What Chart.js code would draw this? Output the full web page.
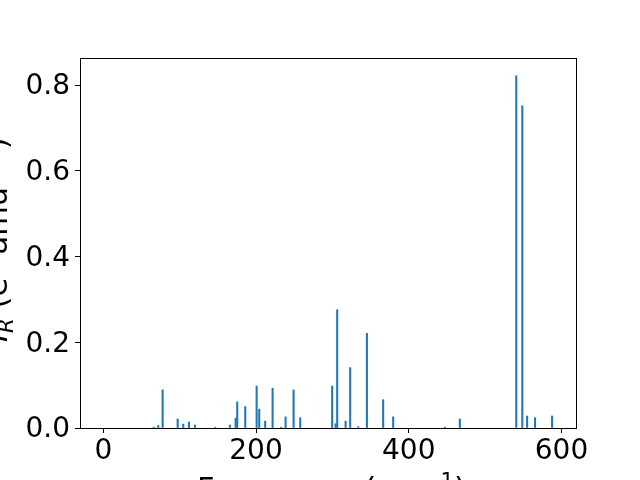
<!DOCTYPE html>
<html>
<head>
<meta charset="utf-8">
<script src="https://cdn.jsdelivr.net/npm/chart.js@4"></script>
<style>
  html, body { margin: 0; padding: 0; background: #fff; overflow: hidden; }
  #wrap { width: 640px; height: 480px; }
</style>
</head>
<body>
<div id="wrap"><canvas id="myChart" width="640" height="480"></canvas></div>
<script>
/* ================================
   Raman-like spectrum: bar sticks
================================ */
// frequencies (cm-1) and intensities
var freqs = [66, 72, 77.7, 97.4, 104.7, 112.2, 120, 146.6, 165.8, 173.3, 175.4, 185.9,
  200.8, 204.2, 212, 221.7, 233, 238.7, 249.2, 257.9, 299.7, 304.2, 306.3, 317.3,
  323.3, 333.8, 345.2, 366.5, 379.6, 447.3, 466.9, 540.8, 548.7, 555, 565.4, 587.7];
var intensities = [0.002, 0.006, 0.089, 0.021, 0.009, 0.014, 0.007, 0.002, 0.007, 0.023, 0.061, 0.05,
  0.098, 0.044, 0.016, 0.093, 0.002, 0.026, 0.089, 0.024, 0.098, 0.010, 0.276, 0.016,
  0.141, 0.003, 0.221, 0.066, 0.026, 0.002, 0.021, 0.822, 0.752, 0.028, 0.024, 0.028];
var xTicks = [0, 200, 400, 600];
var yTicks = [0, 0.2, 0.4, 0.6, 0.8];

// axis labels, drawn piece by piece (sub/superscripts)
var xLabelParts = [
  { text: 'Frequency (cm' },
  { text: '\u22121', sup: true },
  { text: ')' }
];
var yLabelParts = [
  { text: 'I', italic: true },
  { text: 'R', italic: true, sub: true },
  { text: ' (e' },
  { text: '2', sup: true },
  { text: ' amu' },
  { text: '\u22121', sup: true },
  { text: ')' }
];

var FONT = '"DejaVu Sans", sans-serif';
var BLUE = '#1f77b4';
var LABEL_SIZE = 30.5;

// frame on all four sides, like the matplotlib spines
const framePlugin = {
  id: 'frame',
  afterDraw(chart) {
    const a = chart.chartArea;
    const c = chart.ctx;
    c.save();
    c.strokeStyle = '#000';
    c.lineWidth = 1;
    c.strokeRect(Math.round(a.left) + 0.5, Math.round(a.top) + 0.5,
      Math.round(a.right - a.left), Math.round(a.bottom - a.top));
    c.restore();
  }
};

function drawParts(c, parts, size, gap) {
  var x = 0;
  parts.forEach(function (p) {
    var s = (p.sup || p.sub) ? size * 0.7 : size;
    c.font = (p.italic ? 'italic ' : '') + s + 'px ' + FONT;
    var dy = p.sup ? -size * 0.36 : (p.sub ? size * 0.2 : 0);
    if (p.sup && p.text.charAt(0) === '\u2212') x += gap;
    c.fillText(p.text, x, dy);
    x += c.measureText(p.text).width;
    if (p.sup && p.text.charAt(0) === '\u2212') x += gap;
  });
}

const labelPlugin = {
  id: 'axisLabels',
  afterDraw(chart) {
    const c = chart.ctx;
    c.save();
    c.fillStyle = '#000';
    c.textBaseline = 'alphabetic';
    c.textAlign = 'left';
    // x label
    c.save();
    c.translate(197, 499);
    drawParts(c, xLabelParts, LABEL_SIZE, 0);
    c.restore();
    // y label, rotated
    c.save();
    c.translate(7, 342);
    c.rotate(-Math.PI / 2);
    drawParts(c, yLabelParts, LABEL_SIZE, 3);
    c.restore();
    c.restore();
  }
};

const ctx = document.getElementById('myChart');
const spectrum = new Chart(ctx, {
  type: 'bar',
  data: {
    datasets: [{
      data: freqs.map((f, i) => ({ x: f, y: intensities[i] })),
      backgroundColor: BLUE,
      borderWidth: 0,
      barThickness: 1.4,
      grouped: false
    }]
  },
  options: {
    responsive: false,
    animation: false,
    devicePixelRatio: 1,
    layout: { padding: { top: 58, right: 64, left: 0, bottom: 0 } },
    plugins: {
      legend: { display: false },
      tooltip: { enabled: false },
      title: { display: false }
    },
    scales: {
      x: {
        type: 'linear',
        min: -30.5,
        max: 619,
        offset: false,
        afterBuildTicks: (scale) => { scale.ticks = xTicks.map(v => ({ value: v })); },
        afterFit: (scale) => { scale.height = 52; },
        grid: {
          offset: false,
          drawOnChartArea: false,
          drawTicks: true,
          tickLength: 5,
          tickColor: '#000',
          tickWidth: 1
        },
        border: { display: true, color: '#000', width: 1 },
        ticks: {
          color: '#000',
          padding: 2,
          maxRotation: 0,
          font: { family: FONT, size: 28 },
          callback: (v) => String(v)
        }
      },
      y: {
        min: 0,
        max: 0.8635,
        afterBuildTicks: (scale) => { scale.ticks = yTicks.map(v => ({ value: v })); },
        afterFit: (scale) => { scale.width = 80; },
        grid: {
          drawOnChartArea: false,
          drawTicks: true,
          tickLength: 5,
          tickColor: '#000',
          tickWidth: 1
        },
        border: { display: true, color: '#000', width: 1 },
        ticks: {
          color: '#000',
          padding: 5,
          labelOffset: 2,
          font: { family: FONT, size: 28 },
          callback: (v) => v.toFixed(1)
        }
      }
    }
  },
  plugins: [framePlugin, labelPlugin]
});
</script>
</body>
</html>
